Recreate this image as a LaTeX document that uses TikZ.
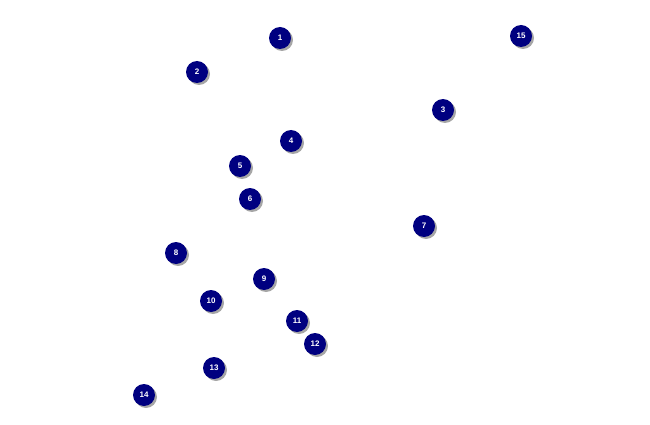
\documentclass[tikz,border=0pt]{standalone}
\usepackage{fontspec}
\setmainfont{Liberation Sans}
\usetikzlibrary{shadows}
\begin{document}
\begin{tikzpicture}[x=1pt,y=-1pt,
  dot/.style={circle,fill=navy,inner sep=0pt,minimum size=22pt,text=white,font=\bfseries\fontsize{8}{8}\selectfont,
    drop shadow={shadow xshift=2pt,shadow yshift=-2pt,fill=gray!70,opacity=1}}]
\definecolor{navy}{RGB}{0,0,128}
\useasboundingbox (0,0) rectangle (650,425);
\foreach \n/\x/\y in {1/280/38,15/521/36,2/197/72,3/443/110,4/291/141,5/240/166,6/250/199,7/424/226,8/176/253,9/264/279,10/211/301,11/297/321,12/315/344,13/214/368,14/144/395}
  \node[dot] (n\n) at (\x,\y) {\n};
\end{tikzpicture}
\end{document}
